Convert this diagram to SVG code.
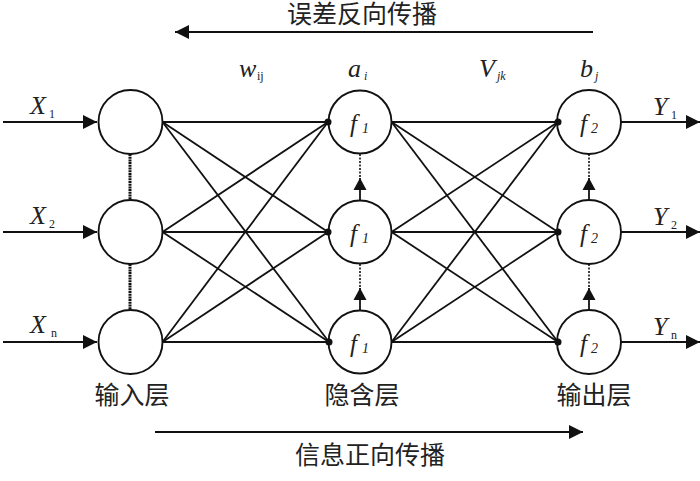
<svg xmlns="http://www.w3.org/2000/svg" width="700" height="481" viewBox="0 0 700 481">
<defs>
<marker id="ah" markerUnits="userSpaceOnUse" markerWidth="15" markerHeight="15" refX="14" refY="7" orient="auto"><path d="M0,0 L14,7 L0,14 z" fill="#111"/></marker>
<marker id="ahs" markerUnits="userSpaceOnUse" markerWidth="13" markerHeight="14" refX="12" refY="7" orient="auto"><path d="M0,0.5 L12,7 L0,13.5 z" fill="#111"/></marker>
<style>
.c{fill:#fff;stroke:#111;stroke-width:1.9}
.l{stroke:#111;stroke-width:1.8;fill:none}
.a{stroke:#111;stroke-width:1.8;fill:none;marker-end:url(#ah)}
.v{stroke:#111;stroke-width:1.8;fill:none;marker-end:url(#ahs)}
.dt{stroke:#111;stroke-width:1.6;stroke-dasharray:2 1.5;fill:none}
.dk{stroke:#111;stroke-width:3;stroke-dasharray:2 0.7;fill:none}
.d{fill:#111}
.it{font-family:"Liberation Serif",serif;font-style:italic;font-size:26px;fill:#222}
.sb{font-family:"Liberation Serif",serif;font-size:12px;fill:#222}
.si{font-family:"Liberation Serif",serif;font-style:italic;font-size:12px;fill:#222}
.ff{font-family:"Liberation Serif",serif;font-style:italic;font-size:25px;fill:#222}
.fs{font-family:"Liberation Serif",serif;font-style:italic;font-size:14px;fill:#222}
.cn{font-family:"Liberation Serif","Noto Sans CJK SC",serif;font-size:25px;fill:#222;text-anchor:middle}
</style>
</defs>

<g id="connectors">
<line class="l" x1="162.5" y1="122" x2="328" y2="122"/>
<line class="l" x1="162.5" y1="122" x2="328" y2="232"/>
<line class="l" x1="162.5" y1="122" x2="329" y2="342"/>
<line class="l" x1="162.5" y1="232" x2="328" y2="122"/>
<line class="l" x1="162.5" y1="232" x2="328" y2="232"/>
<line class="l" x1="162.5" y1="232" x2="329" y2="342"/>
<line class="l" x1="162.5" y1="342" x2="328" y2="122"/>
<line class="l" x1="162.5" y1="342" x2="328" y2="232"/>
<line class="l" x1="162.5" y1="342" x2="329" y2="342"/>
<line class="l" x1="391.5" y1="122" x2="558" y2="122"/>
<line class="l" x1="391.5" y1="122" x2="558" y2="232"/>
<line class="l" x1="391.5" y1="122" x2="558" y2="342"/>
<line class="l" x1="391.5" y1="232" x2="558" y2="122"/>
<line class="l" x1="391.5" y1="232" x2="558" y2="232"/>
<line class="l" x1="391.5" y1="232" x2="558" y2="342"/>
<line class="l" x1="391.5" y1="342" x2="558" y2="122"/>
<line class="l" x1="391.5" y1="342" x2="558" y2="232"/>
<line class="l" x1="391.5" y1="342" x2="558" y2="342"/>
<line class="a" x1="3" y1="122" x2="97" y2="122"/>
<line class="a" x1="3" y1="232" x2="97" y2="232"/>
<line class="a" x1="3" y1="342" x2="97" y2="342"/>
<line class="a" x1="621" y1="122" x2="700" y2="122"/>
<line class="a" x1="621" y1="232" x2="700" y2="232"/>
<line class="a" x1="621" y1="342" x2="700" y2="342"/>
<line class="dk" x1="130" y1="154" x2="130" y2="200"/>
<line class="dk" x1="130" y1="264" x2="130" y2="310"/>
<line class="dt" x1="360" y1="154" x2="360" y2="178"/>
<line class="v" x1="360" y1="200.5" x2="360" y2="178"/>
<line class="dt" x1="360" y1="264" x2="360" y2="288"/>
<line class="v" x1="360" y1="310.5" x2="360" y2="288"/>
<line class="dt" x1="589" y1="154" x2="589" y2="178"/>
<line class="v" x1="589" y1="200.5" x2="589" y2="178"/>
<line class="dt" x1="589" y1="264" x2="589" y2="288"/>
<line class="v" x1="589" y1="310.5" x2="589" y2="288"/>
<line class="a" x1="593" y1="32" x2="175" y2="32"/>
<line class="a" x1="155" y1="432" x2="583" y2="432"/>
</g>

<g id="in1"><circle class="c" cx="130.5" cy="122" r="32"/></g>
<g id="in2"><circle class="c" cx="130.5" cy="232" r="32"/></g>
<g id="in3"><circle class="c" cx="130.5" cy="342" r="32"/></g>

<g id="h1"><circle class="c" cx="360" cy="122" r="31.5"/><circle class="d" cx="328" cy="122" r="3.5"/><text class="ff" x="350" y="131.5">f</text><text class="fs" x="362" y="133">1</text></g>
<g id="h2"><circle class="c" cx="360" cy="232" r="31.5"/><circle class="d" cx="328" cy="232" r="3.5"/><text class="ff" x="350" y="241.5">f</text><text class="fs" x="362" y="243">1</text></g>
<g id="h3"><circle class="c" cx="360" cy="342" r="31.5"/><circle class="d" cx="329" cy="342" r="3.5"/><text class="ff" x="350" y="351.5">f</text><text class="fs" x="362" y="353">1</text></g>

<g id="o1"><circle class="c" cx="589" cy="122" r="32"/><circle class="d" cx="558" cy="122" r="3.5"/><text class="ff" x="580" y="131.5">f</text><text class="fs" x="591" y="133">2</text></g>
<g id="o2"><circle class="c" cx="589" cy="232" r="32"/><circle class="d" cx="558" cy="232" r="3.5"/><text class="ff" x="580" y="241.5">f</text><text class="fs" x="591" y="243">2</text></g>
<g id="o3"><circle class="c" cx="589" cy="342" r="32"/><circle class="d" cx="558" cy="342" r="3.5"/><text class="ff" x="580" y="351.5">f</text><text class="fs" x="591" y="353">2</text></g>

<g id="labels">
<text class="it" x="30" y="114">X</text><text class="sb" x="49" y="118">1</text>
<text class="it" x="30" y="224">X</text><text class="sb" x="49" y="228">2</text>
<text class="it" x="30" y="333">X</text><text class="sb" x="51" y="337">n</text>
<text class="it" x="653" y="115">Y</text><text class="sb" x="671" y="119">1</text>
<text class="it" x="653" y="225">Y</text><text class="sb" x="671" y="229">2</text>
<text class="it" x="653" y="335">Y</text><text class="sb" x="671" y="339">n</text>
<text class="it" x="239" y="77">w</text><text class="sb" x="257" y="80">ij</text>
<text class="it" x="348" y="77">a</text><text class="si" x="364" y="80">i</text>
<text class="it" x="479" y="77">V</text><text class="si" x="497" y="80">jk</text>
<text class="it" x="580" y="77">b</text><text class="si" x="595" y="80">j</text>
<text class="cn" x="362" y="23">误差反向传播</text>
<text class="cn" x="370" y="464">信息正向传播</text>
<text class="cn" x="132" y="404">输入层</text>
<text class="cn" x="362" y="404">隐含层</text>
<text class="cn" x="594" y="404">输出层</text>
</g>
</svg>
